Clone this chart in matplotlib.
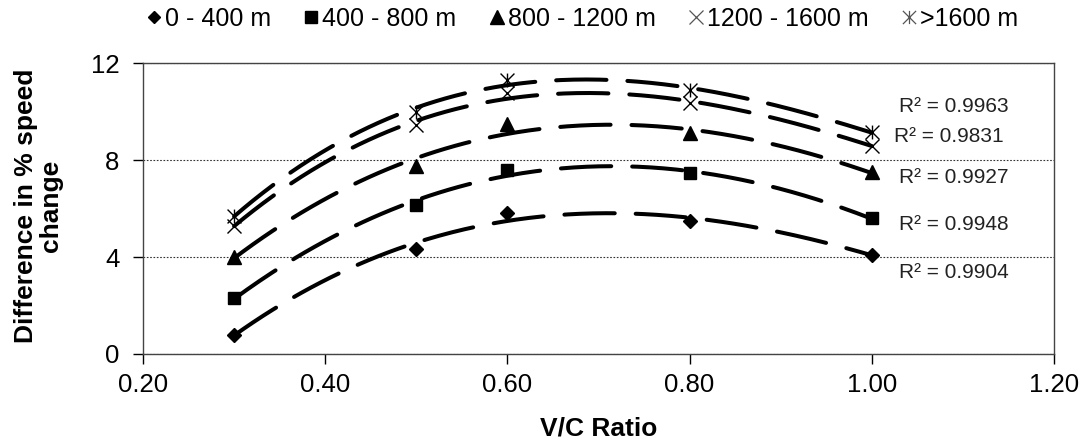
import numpy as np
import matplotlib
matplotlib.use("Agg")
from matplotlib import pyplot as plt
from matplotlib.path import Path
from matplotlib.lines import Line2D

plt.rcParams['font.family'] = ['Liberation Sans', 'DejaVu Sans']

# V/C ratio values
vc = [0.3, 0.5, 0.6, 0.8, 1.0]

# difference in % speed change for each distance band
band_0_400 = [0.8, 4.35, 5.8, 5.5, 4.1]
band_400_800 = [2.3, 6.15, 7.6, 7.45, 5.6]
band_800_1200 = [4.0, 7.75, 9.5, 9.1, 7.5]
band_1200_1600 = [5.3, 9.45, 10.75, 10.35, 8.6]
band_1600_up = [5.7, 10.0, 11.3, 10.9, 9.15]

labels = ['0 - 400 m', '400 - 800 m', '800 - 1200 m', '1200 - 1600 m', '>1600 m']
r2_text = ['R² = 0.9904', 'R² = 0.9948', 'R² = 0.9927', 'R² = 0.9831', 'R² = 0.9963']
r2_pos = [(1.09, 3.38), (1.09, 5.36), (1.09, 7.3), (1.085, 8.99), (1.09, 10.23)]

# excel style "star" marker: x with a vertical bar
star = Path([(-1, -1), (1, 1), (-1, 1), (1, -1), (0, -1), (0, 1)],
            [Path.MOVETO, Path.LINETO, Path.MOVETO, Path.LINETO, Path.MOVETO, Path.LINETO])

series = [band_0_400, band_400_800, band_800_1200, band_1200_1600, band_1600_up]
markers = ['D', 's', '^', 'x', star]
msizes = [7, 9, 10, 10, 10]

fig = plt.figure(figsize=(10.8, 4.45), dpi=100)
ax = fig.add_axes([0.1324, 0.2045, 0.8435, 0.6535])

xfit = np.linspace(vc[0], vc[-1], 200)
handles = []
for vals, m, ms, lab in zip(series, markers, msizes, labels):
    # 3rd order polynomial trendline
    coef = np.polyfit(vc, vals, 3)
    ax.plot(xfit, np.polyval(coef, xfit), color='black', lw=2.9,
            linestyle=(0, (12.5, 5.2)), dash_capstyle='round', zorder=2)
    if m == 'x' or m is star:
        ax.plot(vc, vals, linestyle='none', marker=m, ms=ms, mec='black',
                mfc='none', mew=1.0, zorder=3)
        h = Line2D([], [], linestyle='none', marker=m, ms=ms - 0.5, mec='#555',
                   mfc='none', mew=0.9)
    else:
        ax.plot(vc, vals, linestyle='none', marker=m, ms=ms, color='black', zorder=3)
        h = Line2D([], [], linestyle='none', marker=m, ms=ms - 0.5, color='black')
    handles.append(h)

for t, (x, y) in zip(r2_text, r2_pos):
    ax.text(x, y, t, fontsize=15, color='#222222', ha='center', va='center')

ax.set_xlim(0.2, 1.2)
ax.set_ylim(0, 12)
ax.set_xticks(np.arange(0.2, 1.21, 0.2))
ax.set_xticklabels(['%.2f' % v for v in np.arange(0.2, 1.21, 0.2)])
ax.set_yticks([0, 4, 8, 12])
ax.tick_params(labelsize=18.5, length=7, width=1, direction='out')
ax.tick_params(axis='x', pad=6.5)
ax.tick_params(axis='y', pad=10)
ax.yaxis.grid(True, linestyle=(0, (1.5, 1.5)), color='#333333', lw=0.8)
ax.set_axisbelow(True)
for s in ax.spines.values():
    s.set_color('#444444')
    s.set_linewidth(1.0)

ax.set_xlabel('V/C Ratio', fontsize=19, fontweight='bold', labelpad=14)
ax.set_ylabel('Difference in % speed\nchange', fontsize=19, fontweight='bold',
              linespacing=1.05)
ax.yaxis.set_label_coords(-0.088, 0.51)

fig.legend(handles, labels, loc='center', bbox_to_anchor=(0.539, 0.958), ncol=5,
           frameon=False, fontsize=18, handlelength=0.6, handletextpad=0.15,
           columnspacing=1.3)

fig.savefig('out.png', dpi=100)
